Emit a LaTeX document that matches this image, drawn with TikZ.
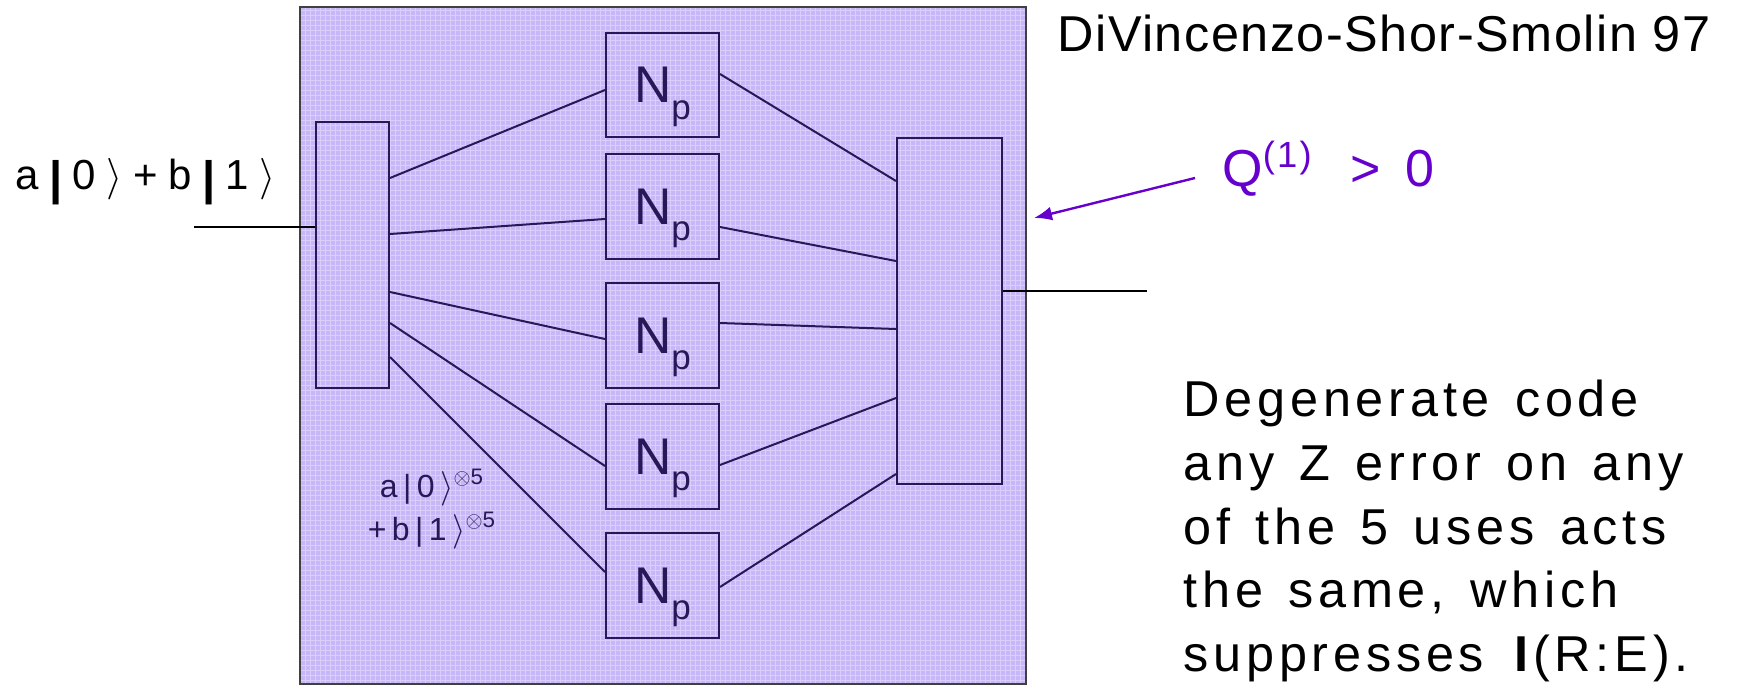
\documentclass[tikz,border=0pt]{standalone}
\usepackage{fontspec}
\setmainfont{Liberation Sans}
\newfontfamily\titlefont[LetterSpace=3]{Liberation Sans}
\newfontfamily\notefont[LetterSpace=9.5,WordSpace=1.35]{Liberation Sans}
\newfontfamily\qfont[LetterSpace=6]{Liberation Sans}
\usetikzlibrary{calc,arrows.meta}
\definecolor{bgfill}{RGB}{199,182,248}
\definecolor{wirecol}{RGB}{40,24,88}
\definecolor{qpurple}{RGB}{102,0,204}
\tikzset{
  boxshape/.style={draw=wirecol, line width=1pt, rectangle, inner sep=0pt},
  wire/.style={draw=wirecol, line width=1pt},
  extwire/.style={draw=black, line width=0.8pt},
  nplabel/.style={boxshape, minimum width=56.5pt, minimum height=52.25pt, text=wirecol, font=\fontsize{25.8}{25.8}\selectfont},
}
\newcommand{\Np}{N\smash{\raisebox{-0.32em}{\fontsize{17.5}{17.5}\selectfont p}}}
\newcommand{\gp}{\hspace{0.25em}}
\newcommand{\sgp}{\hspace{0.17em}}
\newcommand{\bbar}{\raisebox{-0.12em}{\fontsize{23.5}{23.5}\selectfont\textbf{|}}}
\begin{document}
\begin{tikzpicture}[x=0.5pt,y=-0.5pt]
\useasboundingbox (0,0) rectangle (1737,686);
% background panel
\fill[bgfill] (300,7) rectangle (1026,684);
\draw[white, opacity=0.35, line width=0.35pt, step=2.5pt] (300,7) grid (1026,684);
\draw[draw=black!75, line width=0.9pt] (300,7) rectangle (1026,684);
% boxes
\node[boxshape, minimum width=36.5pt, minimum height=133pt] (L) at (352.5,255) {};
\node[nplabel] (N1) at (662.5,85) {\Np};
\node[nplabel] (N2) at (662.5,206.5) {\Np};
\node[nplabel] (N3) at (662.5,335.5) {\Np};
\node[nplabel] (N4) at (662.5,456.5) {\Np};
\node[nplabel] (N5) at (662.5,585.5) {\Np};
\node[boxshape, minimum width=52.5pt, minimum height=173pt] (R) at (949.5,311) {};
% wires left
\draw[wire] ($(L.east)+(0,-77)$) -- ($(N1.west)+(0,5)$);
\draw[wire] ($(L.east)+(0,-21)$) -- ($(N2.west)+(0,12.5)$);
\draw[wire] ($(L.east)+(0,37)$) -- ($(N3.west)+(0,3.5)$);
\draw[wire] ($(L.east)+(0,68)$) -- ($(N4.west)+(0,9.5)$);
\draw[wire] ($(L.east)+(0,102)$) -- ($(N5.west)+(0,-13.5)$);
% wires right
\draw[wire] ($(N1.east)+(0,-11)$) -- ($(R.west)+(0,-130)$);
\draw[wire] ($(N2.east)+(0,20.5)$) -- ($(R.west)+(0,-50)$);
\draw[wire] ($(N3.east)+(0,-12.5)$) -- ($(R.west)+(0,18)$);
\draw[wire] ($(N4.east)+(0,8.5)$) -- ($(R.west)+(0,87)$);
\draw[wire] ($(N5.east)+(0,1.5)$) -- ($(R.west)+(0,163)$);
% input / output
\coordinate (inp) at (194,227);
\coordinate (outp) at (1147,291);
\draw[extwire] (inp) -- ($(L.west)+(0,-28)$);
\draw[extwire] ($(R.east)+(0,-20)$) -- (outp);
% labels
\node[anchor=base west, inner sep=0pt, font=\fontsize{21}{21}\selectfont] (inlabel) at (15,189)
  {a\gp\bbar\gp0\gp$\rangle$\gp+\gp b\gp\bbar\gp1\gp$\rangle$};
\node[anchor=base west, inner sep=0pt, font=\fontsize{25.2}{25.2}\titlefont] (title) at (1057,51) {DiVincenzo-Shor-Smolin 97};
\node[anchor=base west, inner sep=0pt, text=qpurple, font=\fontsize{26}{26}\qfont] (Q) at (1222,186) {Q\textsuperscript{(1)}\hspace{19pt}>\hspace{12pt}0};
\coordinate (qstart) at (1195,178);
\coordinate (qtip) at (1034,218);
\draw[qpurple, line width=1.2pt, -{Latex[length=9pt,width=7pt]}] (qstart) -- (qtip);
\node[anchor=center, inner sep=0pt, align=center, text=wirecol, font=\fontsize{16}{21.5}\selectfont] (state) at (432,509)
  {a\sgp|\sgp0\sgp$\rangle$\textsuperscript{$\otimes$5}\\+\sgp b\sgp|\sgp1\sgp$\rangle$\textsuperscript{$\otimes$5}};
\node[anchor=north west, inner sep=0pt, align=left, font=\fontsize{25.2}{31.8}\notefont] (note) at (1183,380)
  {Degenerate code\\any Z error on any\\of the 5 uses acts\\the same, which\\suppresses \textbf{I}(R:E).};
\end{tikzpicture}
\end{document}
